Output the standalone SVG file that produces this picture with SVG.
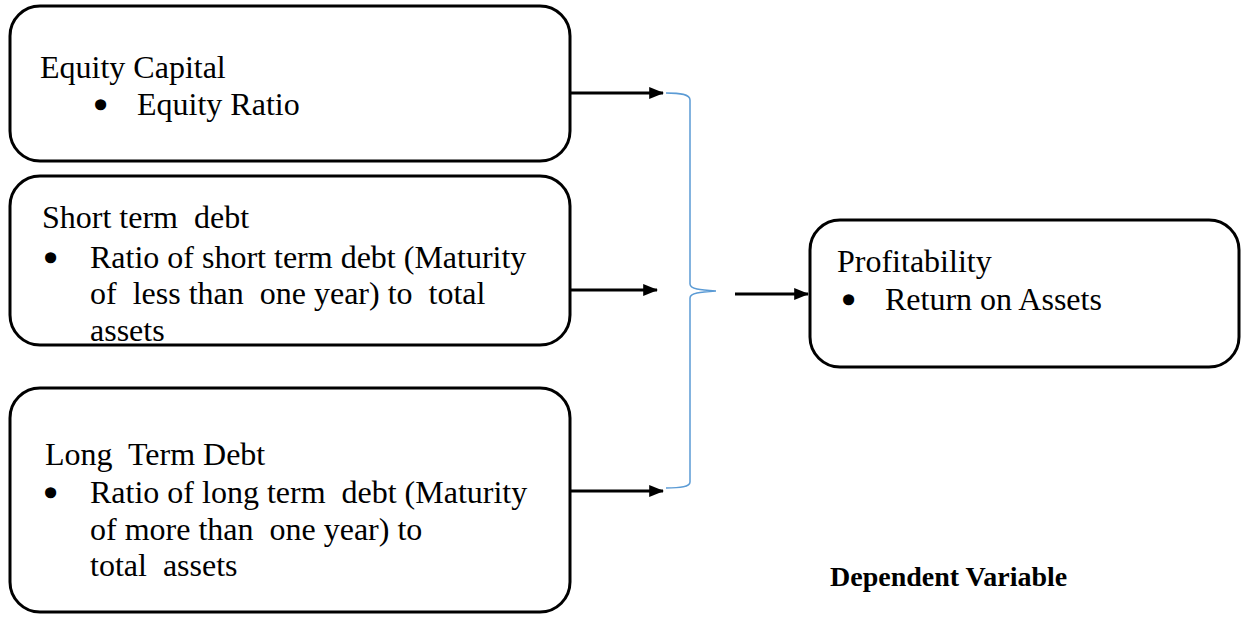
<svg xmlns="http://www.w3.org/2000/svg" width="1241" height="618" viewBox="0 0 1241 618">
<style>
.box{fill:#fff;stroke:#000;stroke-width:3}
.t{font-family:'Liberation Serif','Tinos','Times New Roman','DejaVu Serif',serif;font-size:32px;fill:#000;white-space:pre}
.bl{font-family:'Liberation Serif','Tinos','Times New Roman','DejaVu Serif',serif;font-size:32px;fill:#000;stroke:#000;stroke-width:3.5;stroke-linejoin:round}
.b{font-family:'Liberation Serif','Tinos','Times New Roman','DejaVu Serif',serif;font-size:28px;font-weight:bold;fill:#000}
.arr{stroke:#000;stroke-width:3;fill:none;marker-end:url(#ah)}
.brace{stroke:#5B9BD5;stroke-width:1.5;fill:none}
</style>
<defs>
<marker id="ah" markerWidth="5" markerHeight="4" refX="4.6" refY="2" orient="auto" markerUnits="strokeWidth">
<path d="M0,0 L5,2 L0,4 Z" fill="#000"/>
</marker>
</defs>
<rect width="1241" height="618" fill="#fff"/>
<g id="equity">
<rect class="box" x="10" y="6" width="560" height="155" rx="30"/>
<text class="t" x="40" y="78">Equity Capital</text>
<text class="bl" x="95" y="116">•</text>
<text class="t" x="137" y="115">Equity Ratio</text>
</g>
<g id="short">
<rect class="box" x="10" y="176" width="560" height="169" rx="30"/>
<text class="t" x="42" y="228">Short term  debt</text>
<text class="bl" x="45" y="269">•</text>
<text class="t" x="90" y="268">Ratio of short term debt (Maturity</text>
<text class="t" x="90" y="304">of  less than  one year) to  total</text>
<text class="t" x="90" y="341">assets</text>
</g>
<g id="long">
<rect class="box" x="10" y="388" width="560" height="224" rx="30"/>
<text class="t" x="45" y="465">Long  Term Debt</text>
<text class="bl" x="45" y="504">•</text>
<text class="t" x="90" y="503">Ratio of long term  debt (Maturity</text>
<text class="t" x="90" y="540">of more than  one year) to</text>
<text class="t" x="90" y="576">total  assets</text>
</g>
<g id="profit">
<rect class="box" x="810" y="220" width="429" height="147" rx="30"/>
<text class="t" x="837" y="272">Profitability</text>
<text class="bl" x="843" y="311">•</text>
<text class="t" x="885" y="310">Return on Assets</text>
</g>
<g id="label">
<text class="b" x="830" y="586">Dependent Variable</text>
</g>
<g id="connectors">
<line class="arr" x1="570" y1="93" x2="663" y2="93"/>
<line class="arr" x1="570" y1="290" x2="657" y2="290"/>
<line class="arr" x1="570" y1="491" x2="663" y2="491"/>
<line class="arr" x1="735" y1="294" x2="808" y2="294"/>
<path class="brace" d="M666,93 C680,93 690,94 690,100 L690,284 C690,289 700,290 716,291 C700,292 690,293 690,298 L690,482 C690,487 680,488 666,488"/>
</g>
</svg>
